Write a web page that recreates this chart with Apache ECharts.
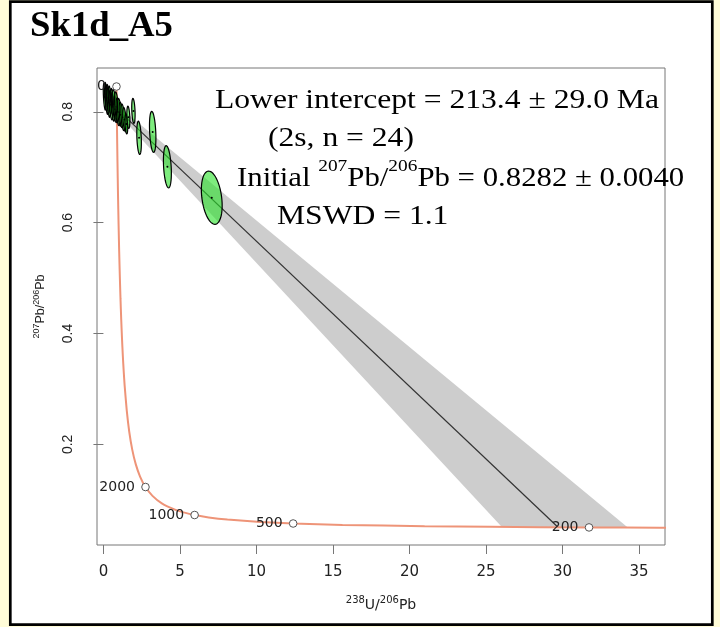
<!DOCTYPE html>
<html><head><meta charset="utf-8">
<script src="https://cdn.jsdelivr.net/npm/echarts@6/dist/echarts.min.js"></script>
<style>html,body{margin:0;padding:0;background:#fffcd8;}#c{width:720px;height:627px;}</style>
</head><body><div id="c"></div>
<script>
// ---- Concordia curve (Tera-Wasserburg), points ordered by 238U/206Pb ----
const concordiaX = [0.853, 0.8848, 0.918, 0.9531, 0.990, 1.0296, 1.0714, 1.1157, 1.163, 1.2134, 1.267, 1.3249, 1.387, 1.5254, 1.687, 1.8796, 2.111, 2.3941, 2.749, 3.206, 3.817, 4.673, 5.2446, 5.959, 6.8786, 8.105, 10.252, 12.399, 15.621, 20.992, 25.289, 31.735, 36.339, 42.477];
const concordiaY = [0.8456, 0.7746, 0.7098, 0.6501, 0.5970, 0.5479, 0.5032, 0.4624, 0.4252, 0.3912, 0.3602, 0.3319, 0.3060, 0.2607, 0.2227, 0.1910, 0.1643, 0.1419, 0.1230, 0.1071, 0.0936, 0.0822, 0.0772, 0.0725, 0.0682, 0.0643, 0.0599, 0.0572, 0.0547, 0.0524, 0.0512, 0.0501, 0.0496, 0.0491];
// ---- Concordia age markers ----
const markerAges = [200, 500, 1000, 2000, 5000];
const markerX = [31.735, 12.399, 5.959, 2.749, 0.853];
const markerY = [0.0501, 0.0572, 0.0725, 0.1230, 0.8456];
// ---- Discordia regression line ----
const lineX = [0, 29.71];
const lineY = [0.8282, 0.0504];
// ---- Error envelope outline ----
const bandX = [0, 34.29, 31.7, 29.7, 26.04, 0];
const bandY = [0.8322, 0.0497, 0.0501, 0.0504, 0.0511, 0.8242];
// ---- Data points (error ellipses): centre, half-widths, correlation ----
const ptX  = [0.08, 0.15, 0.22, 0.28, 0.35, 0.42, 0.50, 0.56, 0.63, 0.70, 0.78, 0.86, 0.95, 1.05, 1.15, 1.27, 1.38, 1.50, 1.63, 1.96, 2.33, 3.22, 4.18, 7.08];
const ptY  = [0.8272, 0.8310, 0.8215, 0.8255, 0.8170, 0.8215, 0.8125, 0.8180, 0.8090, 0.8135, 0.8045, 0.8090, 0.8000, 0.7990, 0.7945, 0.7900, 0.7860, 0.7780, 0.7900, 0.8016, 0.7530, 0.7637, 0.7008, 0.6450];
const ptSx = [0.09, 0.08, 0.10, 0.09, 0.11, 0.10, 0.12, 0.10, 0.11, 0.12, 0.11, 0.13, 0.12, 0.13, 0.12, 0.13, 0.12, 0.09, 0.10, 0.11, 0.15, 0.21, 0.26, 0.68];
const ptSy = [0.024, 0.022, 0.026, 0.024, 0.027, 0.025, 0.027, 0.024, 0.026, 0.027, 0.024, 0.027, 0.025, 0.025, 0.023, 0.024, 0.022, 0.018, 0.020, 0.0225, 0.030, 0.037, 0.038, 0.048];
const ptRho = [-0.5, -0.5, -0.5, -0.5, -0.5, -0.5, -0.5, -0.5, -0.5, -0.5, -0.5, -0.5, -0.5, -0.5, -0.5, -0.5, -0.5, -0.3, -0.3, -0.3, -0.3, -0.3, -0.3, -0.3];
// ---- Axis ticks ----
const xTicks = [0, 5, 10, 15, 20, 25, 30, 35];
const yTicks = [0.2, 0.4, 0.6, 0.8];

const chart = echarts.init(document.getElementById('c'), null, {renderer: 'canvas'});

const ellipseRows = ptX.map((x, i) => [x, ptY[i], ptSx[i], ptSy[i], ptRho[i]]);
const markerRows = markerX.map((x, i) => [x, markerY[i], markerAges[i]]);
const concRows = concordiaX.map((x, i) => [x, concordiaY[i]]);
const lineRows = lineX.map((x, i) => [x, lineY[i]]);

const serifTxt = (text, x, y, sx) => ({
  type: 'text', x: x, y: y, scaleX: sx || 1.17, z: 100,
  style: {text: text, font: '27px "Liberation Serif"', fill: '#000', verticalAlign: 'middle', align: 'left'}
});

chart.setOption({
  backgroundColor: '#fffcd8',
  animation: false,
  grid: {left: 97, top: 68, right: 55, bottom: 82, show: true, borderColor: '#777', borderWidth: 1, backgroundColor: 'transparent'},
  xAxis: {
    type: 'value', min: -0.42, max: 36.7,
    axisLine: {show: false}, splitLine: {show: false},
    axisTick: {show: true, length: 9, customValues: xTicks, lineStyle: {color: '#777'}},
    axisLabel: {customValues: xTicks, margin: 20, fontFamily: 'DejaVu Sans', fontSize: 15, color: '#222'},
    name: '{sup|238}U/{sup|206}Pb', nameLocation: 'middle', nameGap: 50,
    nameTextStyle: {fontFamily: 'DejaVu Sans', fontSize: 14, color: '#222', lineHeight: 20,
      rich: {sup: {fontFamily: 'DejaVu Sans', fontSize: 10, color: '#222', verticalAlign: 'top'}}}
  },
  yAxis: {
    type: 'value', min: 0.0184, max: 0.879,
    axisLine: {show: false}, splitLine: {show: false},
    axisTick: {show: true, length: 10, customValues: yTicks, lineStyle: {color: '#777'}},
    axisLabel: {customValues: yTicks, rotate: 90, margin: 22, fontFamily: 'Liberation Sans', fontSize: 14, color: '#222',
      formatter: v => String(v)},
    name: '{sup|207}Pb/{sup|206}Pb', nameLocation: 'middle', nameGap: 47,
    nameTextStyle: {fontFamily: 'Liberation Sans', fontSize: 12.5, color: '#222', lineHeight: 18,
      rich: {sup: {fontFamily: 'Liberation Sans', fontSize: 9, color: '#222', verticalAlign: 'top'}}}
  },
  series: [
    { // error envelope
      type: 'custom', clip: true, z: 1, silent: true,
      data: [[0, 0]],
      renderItem: (params, api) => ({
        type: 'polygon',
        shape: {points: bandX.map((x, i) => api.coord([x, bandY[i]]))},
        style: {fill: '#cdcdcd'}
      })
    },
    { // discordia line
      type: 'line', z: 2, data: lineRows, symbol: 'none', clip: true,
      lineStyle: {color: '#333', width: 1.2}
    },
    { // concordia
      type: 'line', z: 3, data: concRows, symbol: 'none', clip: true, smooth: 0.2,
      lineStyle: {color: '#ee9478', width: 2}
    },
    { // ellipses
      type: 'custom', clip: true, z: 4, data: ellipseRows,
      renderItem: (params, api) => {
        const cx = api.value(0), cy = api.value(1), sx = api.value(2), sy = api.value(3), r = api.value(4);
        const q = Math.sqrt(1 - r * r);
        const pts = [];
        for (let k = 0; k < 60; k++) {
          const t = 2 * Math.PI * k / 60, c = Math.cos(t), s = Math.sin(t);
          pts.push(api.coord([cx + sx * c, cy + sy * (r * c + q * s)]));
        }
        const p = api.coord([cx, cy]);
        return {type: 'group', children: [
          {type: 'polygon', shape: {points: pts}, style: {fill: 'rgba(40,225,40,0.6)', stroke: '#000', lineWidth: 1.2}},
          {type: 'circle', shape: {cx: p[0], cy: p[1], r: 1}, style: {fill: '#000'}}
        ]};
      }
    },
    { // age markers with labels
      type: 'custom', clip: true, z: 5, data: markerRows,
      renderItem: (params, api) => {
        const p = api.coord([api.value(0), api.value(1)]);
        return {type: 'group', children: [
          {type: 'circle', shape: {cx: p[0], cy: p[1], r: 3.8}, style: {fill: '#fff', stroke: '#555', lineWidth: 1}},
          {type: 'text', x: p[0] - 10.5, y: p[1], style: {text: String(api.value(2)), align: 'right', verticalAlign: 'middle',
            font: '14px "DejaVu Sans"', fill: '#222'}}
        ]};
      }
    }
  ],
  graphic: {elements: [
    {type: 'rect', z: -100, silent: true, shape: {x: 10.3, y: 1.7, width: 702, height: 623},
      style: {fill: '#fff', stroke: '#000', lineWidth: 2.7}},
    {type: 'text', x: 30, y: 27, scaleX: 1.05, z: 100,
      style: {text: 'Sk1d_A5', font: 'bold 35px "Liberation Serif"', fill: '#000', verticalAlign: 'middle'}},
    serifTxt('Lower intercept = 213.4 \u00b1 29.0 Ma', 215, 101),
    serifTxt('(2s, n = 24)', 268, 139),
    {type: 'text', x: 237, y: 179, scaleX: 1.14, z: 100,
      style: {text: 'Initial {sup|207}Pb/{sup|206}Pb = 0.8282 \u00b1 0.0040', font: '27px "Liberation Serif"', fill: '#000',
        verticalAlign: 'middle', align: 'left', lineHeight: 42,
        rich: {sup: {fontFamily: 'Liberation Serif', fontSize: 17, fill: '#000', verticalAlign: 'top'}}}},
    serifTxt('MSWD = 1.1', 277, 217)
  ]}
});
</script></body></html>
